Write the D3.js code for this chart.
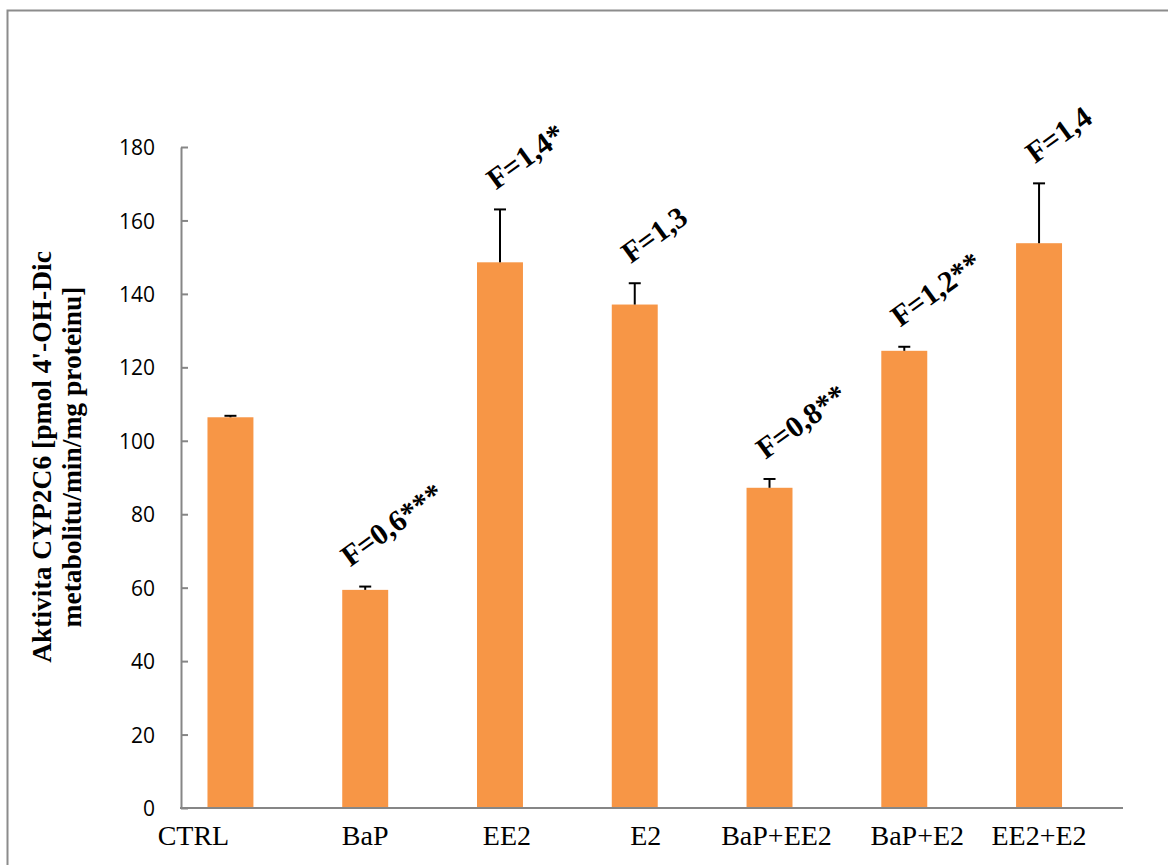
<!DOCTYPE html>
<html>
<head>
<meta charset="utf-8">
<script src="https://cdn.jsdelivr.net/npm/d3@7"></script>
<style>
  html, body { margin: 0; padding: 0; background: #fff; }
  svg { display: block; }
</style>
</head>
<body>
<svg id="chart" width="1168" height="865"></svg>
<script>
// CYP2C6 activity per treatment group (mean ± error), with fold-change notes
const categories = ["CTRL", "BaP", "EE2", "E2", "BaP+EE2", "BaP+E2", "EE2+E2"];
const means      = [106.4, 59.4, 148.6, 137.1, 87.2, 124.5, 153.8];
const errors     = [0.4, 0.9, 14.4, 5.8, 2.4, 1.1, 16.3];
const notes      = [null, "F=0,6***", "F=1,4*", "F=1,3", "F=0,8**", "F=1,2**", "F=1,4"];
const yTicks     = [0, 20, 40, 60, 80, 100, 120, 140, 160, 180];
const yTitle     = ["Aktivita CYP2C6 [pmol 4'-OH-Dic", "metabolitu/min/mg proteinu]"];

const svg = d3.select("#chart");
const W = 1168, H = 865;

// outer chart frame (runs off the right and bottom edges)
svg.append("rect")
  .attr("x", 7.5).attr("y", 10.5)
  .attr("width", W + 20).attr("height", H + 20)
  .attr("fill", "none").attr("stroke", "#8c8c8c").attr("stroke-width", 2);

const axisLeftX = 181, axisRightX = 1123, baseY = 808, topY = 147;

const y = d3.scaleLinear().domain([0, 180]).range([baseY, topY]);
const x = d3.scaleBand()
  .domain(categories)
  .range([163, 1106.5])
  .paddingInner(0.659)
  .paddingOuter(0.33);

const barColor = "#F79646";
const axisColor = "#868686";

// bars
svg.append("g").selectAll("rect")
  .data(categories)
  .join("rect")
  .attr("x", d => x(d))
  .attr("width", x.bandwidth())
  .attr("y", (d, i) => y(means[i]))
  .attr("height", (d, i) => y(0) - y(means[i]))
  .attr("fill", barColor);

// upper error bars
const capHalf = 6;
const eg = svg.append("g").attr("stroke", "#000").attr("stroke-width", 2);
categories.forEach((c, i) => {
  const cx = x(c) + x.bandwidth() / 2;
  const top = y(means[i] + errors[i]);
  eg.append("line").attr("x1", cx).attr("x2", cx).attr("y1", y(means[i])).attr("y2", top);
  eg.append("line").attr("x1", cx - capHalf).attr("x2", cx + capHalf).attr("y1", top).attr("y2", top);
});

// y axis, ticks pointing inward
const yAxis = d3.axisLeft(y)
  .tickValues(yTicks)
  .tickSizeInner(-7)
  .tickSizeOuter(0)
  .tickPadding(26)
  .tickFormat(d3.format("d"));
const gy = svg.append("g")
  .attr("transform", `translate(${axisLeftX},0)`)
  .call(yAxis);
gy.select(".domain").attr("stroke", axisColor).attr("stroke-width", 2);
gy.selectAll(".tick line").attr("stroke", axisColor).attr("stroke-width", 2);
gy.selectAll(".tick text")
  .attr("font-family", "'Open Sans', sans-serif")
  .attr("font-size", 21)
  .attr("fill", "#000")
  .attr("dy", "0.36em");

// category baseline
svg.append("line")
  .attr("x1", axisLeftX - 1).attr("x2", axisRightX)
  .attr("y1", y(0)).attr("y2", y(0))
  .attr("stroke", axisColor).attr("stroke-width", 2);

// category labels (hand-placed text boxes, slightly off the bar centres)
const labelNudge = { "CTRL": -37, "EE2": 7, "E2": 11, "BaP+EE2": 7, "BaP+E2": 13 };
svg.append("g").selectAll("text")
  .data(categories)
  .join("text")
  .attr("x", d => x(d) + x.bandwidth() / 2 + (labelNudge[d] || 0))
  .attr("y", 845)
  .attr("text-anchor", "middle")
  .attr("font-family", "'Liberation Serif', 'Times New Roman', serif")
  .attr("font-size", 28)
  .attr("fill", "#000")
  .text(d => d);

// rotated fold-change notes above the error bars
svg.append("g").selectAll("text")
  .data(categories.map((c, i) => ({ c, i })).filter(d => notes[d.i]))
  .join("text")
  .attr("transform", d => {
    const cx = x(d.c) + x.bandwidth() / 2 - (d.c === "BaP" ? 15 : 4);
    const ty = y(means[d.i] + errors[d.i]) - 19;
    return `translate(${cx},${ty}) rotate(-36)`;
  })
  .attr("font-family", "'Liberation Serif', 'Times New Roman', serif")
  .attr("font-weight", "bold")
  .attr("font-size", 30)
  .attr("fill", "#000")
  .text(d => notes[d.i]);

// y axis title, two lines
const titleY = 457;
svg.append("g").selectAll("text")
  .data(yTitle)
  .join("text")
  .attr("transform", (d, i) => `translate(${51 + i * 30},${titleY}) rotate(-90)`)
  .attr("text-anchor", "middle")
  .attr("font-family", "'Liberation Serif', 'Times New Roman', serif")
  .attr("font-weight", "bold")
  .attr("font-size", 27.5)
  .attr("fill", "#000")
  .text(d => d);
</script>
</body>
</html>
